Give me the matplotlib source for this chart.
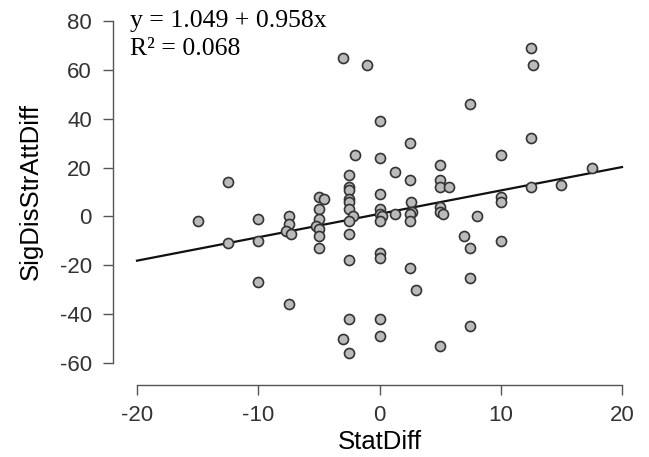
import numpy as np
import matplotlib
matplotlib.use("Agg")
import matplotlib.pyplot as plt

# datos
stat_diff = [-15, -12.5, -12.5, -10, -10, -10, -7.5, -7.5, -7.7, -7.3, -7.5,
             -5, -4.6, -5, -5, -5.2, -5, -5, -5,
             -3, -1, -2, -2.5, -2.5, -2.5, -2.5, -2.5, -2.5, -2.2, -2.5, -2.5,
             -2.5, -2.5, -3, -2.5,
             0, 0, 0, 0, 0, 0.2, 0, 0, 0, 0, 0,
             1.3, 1.3, 2.5, 2.5, 2.6, 2.7, 2.5, 2.5, 2.5, 3,
             5, 5, 5, 5.7, 5, 5, 5.2, 5,
             7, 7.5, 7.5, 7.5, 7.5, 8,
             10, 10, 10, 10, 12.5, 12.7, 12.5, 12.5, 15, 17.5]
sig_diff = [-2, 14, -11, -1, -10, -27, 0, -3, -6, -7, -36,
            8, 7, 3, -1, -4, -5, -8, -13,
            65, 62, 25, 17, 12, 11, 7, 6, 3, 0, -2, -7,
            -18, -42, -50, -56,
            39, 24, 9, 3, 1, 0, -2, -15, -17, -42, -49,
            18, 1, 30, 15, 6, 2, 1, -2, -21, -30,
            21, 15, 12, 12, 4, 2, 1, -53,
            -8, 46, -13, -25, -45, 0,
            25, 8, 6, -10, 69, 62, 32, 12, 13, 20]

intercept = 1.049
slope = 0.958
r2 = 0.068

x_ticks = [-20, -10, 0, 10, 20]
y_ticks = [-60, -40, -20, 0, 20, 40, 60, 80]

plt.rcParams['font.family'] = ['Liberation Sans', 'DejaVu Sans']
plt.rcParams['axes.unicode_minus'] = False

W, H = 649, 457
fig = plt.figure(figsize=(W / 100, H / 100), dpi=100)
ax = fig.add_axes([137 / W, (H - 363) / H, 485 / W, 342 / H])

xl = np.array([-20, 20])
ax.plot(xl, intercept + slope * xl, color='#111111', lw=1.6, clip_on=False, zorder=2)
ax.scatter(stat_diff, sig_diff, s=52, facecolor='#bababa', edgecolor='#333333',
           linewidth=1.2, zorder=3, clip_on=False)

ax.set_xlim(-20, 20)
ax.set_ylim(-60, 80)
ax.set_xticks(x_ticks)
ax.set_yticks(y_ticks)

for s in ['top', 'right']:
    ax.spines[s].set_visible(False)
ax.spines['left'].set_position(('outward', 24 * 0.72))
ax.spines['bottom'].set_position(('outward', 22 * 0.72))
for s in ['left', 'bottom']:
    ax.spines[s].set_color('#555555')
    ax.spines[s].set_linewidth(1.0)
ax.tick_params(length=7.2, width=1.0, color='#555555', labelsize=16,
               labelcolor='#333333')
ax.tick_params(axis='x', pad=7)
ax.tick_params(axis='y', pad=8)

ax.set_xlabel('StatDiff', fontsize=18.5, labelpad=3)
ax.set_ylabel('SigDisStrAttDiff', fontsize=18.5, labelpad=12)

fig.text(130 / W, 1 - 27 / H, f'y = {intercept:.3f} + {slope:.3f}x',
         family='Liberation Serif', fontsize=18.5, va='baseline', ha='left')
fig.text(130 / W, 1 - 55 / H, f'R² = {r2:.3f}',
         family='Liberation Serif', fontsize=18.5, va='baseline', ha='left')

fig.savefig('out.png', dpi=100)
